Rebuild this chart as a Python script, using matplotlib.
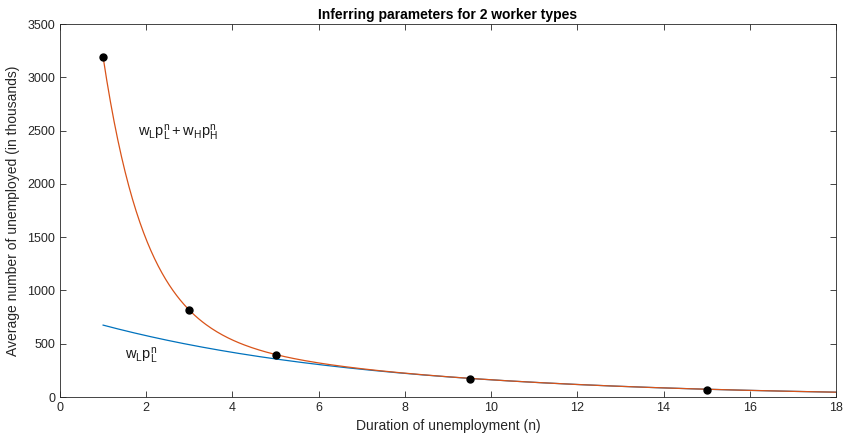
import numpy as np
import matplotlib
matplotlib.use("Agg")
import matplotlib.pyplot as plt

plt.rcParams['font.family'] = ['Liberation Sans', 'DejaVu Sans']
plt.rcParams['mathtext.fontset'] = 'custom'
plt.rcParams['mathtext.rm'] = 'Liberation Sans'
plt.rcParams['mathtext.it'] = 'Liberation Sans'

# observed averages
duration = [1, 3, 5, 9.5, 15]
unemployed = [3190, 815, 395, 172, 66]

# fitted parameters for the two worker types
w_L, p_L = 791, 0.853
w_H, p_H = 7006, 0.359

n = np.linspace(1, 18, 400)
low = w_L * p_L ** n
total = low + w_H * p_H ** n

blue = (0, 0.447, 0.741)
orange = (0.85, 0.325, 0.098)

fig = plt.figure(figsize=(8.44, 4.38), dpi=100)
ax = fig.add_axes([0.0711, 0.0936, 0.9194, 0.8514])

ax.plot(n, low, color=blue, lw=0.9)
ax.plot(n, total, color=orange, lw=0.9)
ax.plot(duration, unemployed, 'o', color='k', ms=5)

ax.text(1.8, 2480, r'$\mathrm{w_Lp_L^n + w_Hp_H^n}$', fontsize=10.5,
        va='center', color='#1a1a1a')
ax.text(1.5, 385, r'$\mathrm{w_Lp_L^n}$', fontsize=10.5, va='center',
        color='#1a1a1a')

ax.set_xlim(0, 18)
ax.set_ylim(0, 3500)
ax.set_xticks(range(0, 19, 2))
ax.set_yticks(range(0, 3501, 500))
ax.tick_params(direction='in', top=True, right=True, labelsize=9,
               length=4, width=0.6, colors='#262626')
for s in ax.spines.values():
    s.set_linewidth(0.6)
    s.set_color('#262626')

ax.set_xlabel('Duration of unemployment (n)', fontsize=10, color='#262626')
ax.set_ylabel('Average number of unemployed (in thousands)', fontsize=10,
              color='#262626', labelpad=5)
ax.set_title('Inferring parameters for 2 worker types', fontsize=10,
             fontweight='bold', pad=4)

plt.savefig('out.png', dpi=100)
